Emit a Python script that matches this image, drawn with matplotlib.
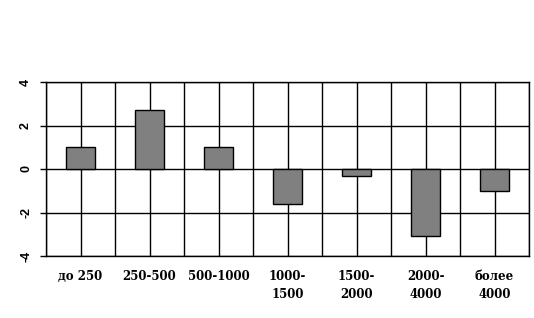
import numpy as np
import matplotlib.pyplot as plt

# категории и значения
categories = ["до 250", "250-500", "500-1000", "1000-\n1500", "1500-\n2000", "2000-\n4000", "более\n4000"]
values = [1.0, 2.7, 1.0, -1.6, -0.3, -3.1, -1.0]
yticks = [-4, -2, 0, 2, 4]

fig = plt.figure(figsize=(5.34, 3.18), dpi=100)
ax = fig.add_axes([46/534, 1 - 256/318, 483/534, 174/318])

x = np.arange(len(categories))
ax.bar(x, values, width=0.41, color="#808080", edgecolor="black", linewidth=1, zorder=3)

ax.set_xlim(-0.5, len(categories) - 0.5)
ax.set_ylim(-4, 4)
ax.set_yticks(yticks)
ax.set_yticklabels([str(v) for v in yticks], rotation=90, va="center",
                   fontsize=9, fontweight="bold", family="Liberation Sans")

# сетка: горизонтальные линии и вертикальные по границам и центрам категорий
for y in yticks:
    ax.axhline(y, color="black", linewidth=1, zorder=1)
for xv in np.arange(-0.5, len(categories), 0.5):
    ax.axvline(xv, color="black", linewidth=1, zorder=1)

ax.set_xticks(x)
ax.set_xticklabels(categories, fontsize=8.5, fontweight="bold", family="DejaVu Serif",
                   linespacing=1.5, va="top")
ax.tick_params(axis="x", length=0, pad=10)
ax.tick_params(axis="y", length=4, width=1, pad=6)
for s in ax.spines.values():
    s.set_linewidth(1)

fig.savefig("out.png", dpi=100)
